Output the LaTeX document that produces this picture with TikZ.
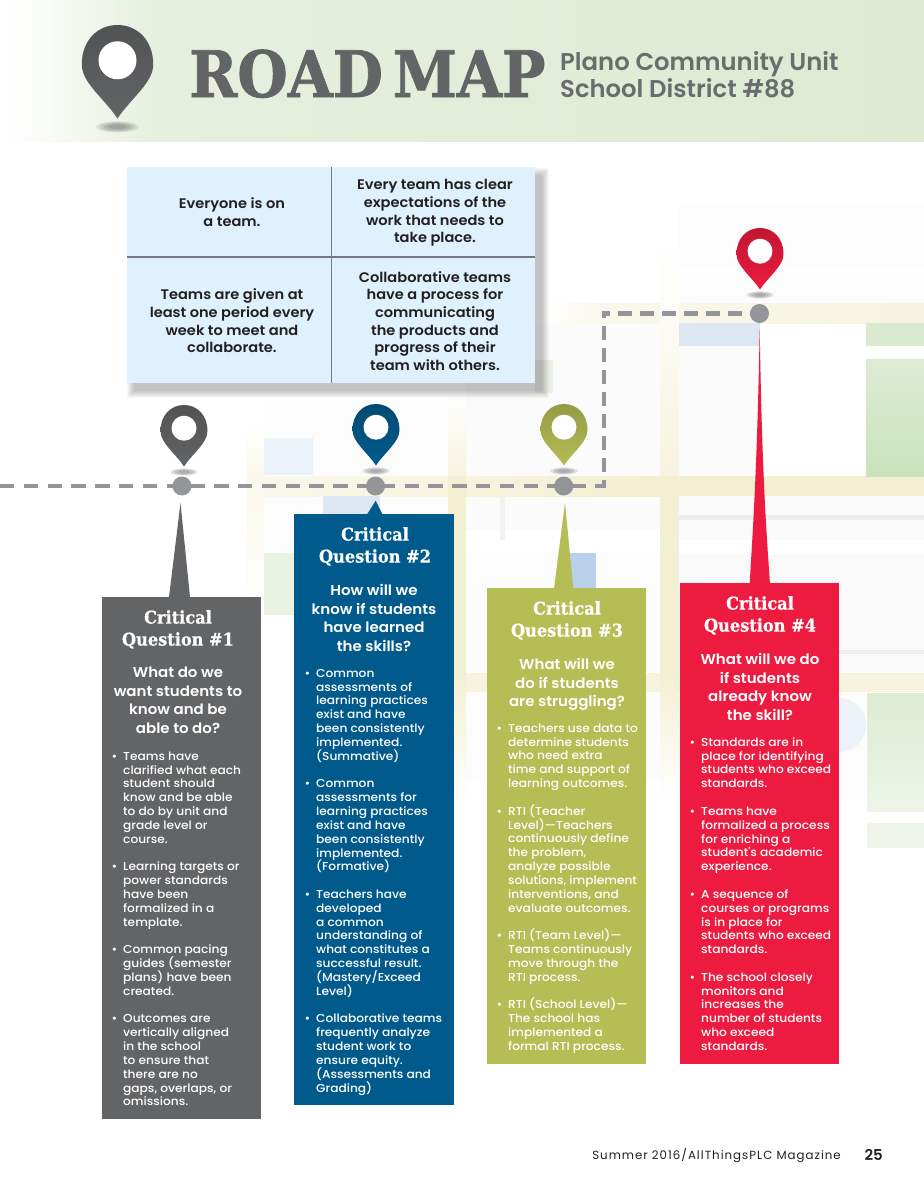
\documentclass[tikz,border=0pt]{standalone}
\usepackage{fontspec}
\usetikzlibrary{shadings,backgrounds}
\setmainfont{Poppins}
\newfontfamily\pfoot[LetterSpace=8.5]{Poppins}
\newfontfamily\pmed[FakeStretch=1.06]{Poppins Medium}
\newfontfamily\psemi[FakeStretch=1.05]{Poppins SemiBold}
\newfontfamily\psub{Poppins SemiBold}
\newfontfamily\slab[FakeStretch=0.92,FakeBold=0.6]{DejaVu Serif Bold}
\newfontfamily\slabT[FakeStretch=0.905,FakeBold=1.2]{DejaVu Serif Bold}
\definecolor{cone}{HTML}{636466}
\definecolor{ctwo}{HTML}{005B8C}
\definecolor{cthree}{HTML}{B5BD55}
\definecolor{cfour}{HTML}{EC1B3F}
\definecolor{dashgrey}{HTML}{939598}
\definecolor{tablefill}{HTML}{DFF1FC}
\definecolor{rulegrey}{HTML}{777A85}
\definecolor{inkblack}{HTML}{231F20}
\definecolor{rA}{HTML}{F6F3DF}
\definecolor{rB}{HTML}{F3EFD2}
\definecolor{rC}{HTML}{FAF8EC}
\definecolor{gA}{HTML}{D9EACE}
\definecolor{gB}{HTML}{C9E3BC}
\definecolor{gC}{HTML}{DDEBD2}
\definecolor{gD}{HTML}{EEF5E8}
\definecolor{gE}{HTML}{EAF2E3}
\definecolor{gF}{HTML}{EBF0E6}
\definecolor{bA}{HTML}{DDE6F3}
\definecolor{bB}{HTML}{EBF1F9}
\definecolor{bC}{HTML}{B9D0EA}
\definecolor{bD}{HTML}{EDF2F9}
\definecolor{bandA}{HTML}{E7F0DF}
\definecolor{bandB}{HTML}{DDE9D1}
\newcommand\bul{\makebox[0pt][r]{•\hspace{6pt}}}
\newcommand\fl{\rule{0pt}{9pt}}
\newcommand\tightlines{\lineskiplimit=-100pt\relax}
\newcommand\mapmarker[4]{% cx, top, scale, colour
  \begin{scope}[shift={(#1,#2)},scale=#3]
    \foreach \w/\h in {14/3.6,11.5/3,9/2.4,6/1.6}
      \fill[black,opacity=.09] (0,67) ellipse[x radius=\w,y radius=\h];
    \shade[top color=#4!82!black,bottom color=#4]
      (-23.5,26) .. controls (-23.5,10) and (-13,0) .. (0,0)
      .. controls (13,0) and (23.5,10) .. (23.5,26)
      .. controls (23.5,38) and (9,48) .. (0,61.5)
      .. controls (-9,48) and (-23.5,38) .. (-23.5,26) -- cycle;
    \fill[white] (0,23.2) circle[radius=12.5];
  \end{scope}}
\tikzset{
  qtitle/.style={inner sep=0pt,align=center,text=white,anchor=north,font=\slab\fontsize{17.6}{22}\selectfont\tightlines},
  qask/.style={inner sep=0pt,align=center,text=white,anchor=north,font=\psemi\fontsize{14.3}{18.6}\selectfont\tightlines},
  qlist/.style={inner sep=0pt,align=left,text=white,anchor=north west,font=\pmed\fontsize{11.5}{13.83}\selectfont\tightlines},
  cell/.style={inner sep=0pt,align=center,text=inkblack,font=\psemi\fontsize{13.9}{17.7}\selectfont\tightlines},
  route/.style={draw=dashgrey,line width=4.6pt},
  stopdot/.style={circle,fill=dashgrey,minimum size=19pt,inner sep=0pt},
}
\begin{document}
\begin{tikzpicture}[x=1pt,y=-1pt]
\useasboundingbox (0,0) rectangle (924,1200);
\begin{pgfonlayer}{background}
\fill[white] (0,0) rectangle (924,1200);
% faint street map: blocks
\fill[black!1.5] (466,322) rectangle (660,476);
\fill[black!1.5] (466,496) rectangle (660,530);
\fill[black!1.2] (466,553) rectangle (660,672);
\fill[black!1.2] (466,692) rectangle (660,780);
\fill[black!5] (500,496) rectangle (505,540);
\fill[black!1.5] (679,346) rectangle (762,476);
\fill[black!2] (679,496) rectangle (924,540);
\fill[black!7] (679,515) rectangle (924,520);
\fill[black!2.5] (679,555) rectangle (924,672);
\fill[black!7] (839,650) rectangle (924,654);
\fill[black!1] (679,205) rectangle (924,268);
\fill[black!1] (679,272) rectangle (924,303);
\fill[black!1] (264,400) rectangle (448,476);
\fill[black!1] (264,496) rectangle (448,553);
\fill[black!1] (679,692) rectangle (866,800);
% roads
\shade[left color=white,right color=rC] (535,303) rectangle (600,323);
\shade[left color=rC,right color=rA] (600,303) rectangle (924,323);
\shade[left color=rC,right color=rB] (247,476) rectangle (660,496);
\fill[rB] (660,476) rectangle (924,496);
\fill[rA] (466,673) rectangle (924,692);
\shade[top color=white,bottom color=rA] (660,240) rectangle (679,476);
\fill[rB] (660,476) rectangle (679,673);
\shade[top color=rB,bottom color=white] (660,673) rectangle (679,800);
\shade[top color=white,bottom color=rA] (448,390) rectangle (466,476);
\fill[rB] (448,476) rectangle (466,673);
\shade[top color=rB,bottom color=white] (448,673) rectangle (466,800);
\shade[top color=white,bottom color=rC] (247,420) rectangle (264,476);
\shade[top color=rC,bottom color=white] (247,476) rectangle (264,640);
% green and blue blocks
\fill[gF] (535,360) rectangle (553,393);
\fill[gA] (866,323) rectangle (924,346);
\shade[top color=gC,bottom color=gB] (866,359) rectangle (924,476);
\shade[top color=gC,bottom color=gD] (867,693) rectangle (924,811);
\fill[gD] (867,823) rectangle (924,848);
\fill[gE] (264,553) rectangle (294,615);
\fill[bD] (839,725) circle[radius=27];
\fill[bA] (679,323) rectangle (760,346);
\fill[bB] (264,438) rectangle (313,475);
\fill[bA] (323,496) rectangle (380,514);
\fill[bC] (570,553) rectangle (596,588);
\end{pgfonlayer}
% header band
\shade[left color=white,right color=bandA] (8,0) rectangle (150.5,141);
\shade[left color=bandA,right color=bandB] (150,0) rectangle (924,141);
% title
\mapmarker{117.5}{25}{1.52}{cone}
\node[inner sep=0pt,anchor=base west,text=cone] (roadmap) at (189,97) {\slabT\fontsize{64}{64}\selectfont ROAD\hspace{10pt}MAP};
\node[inner sep=0pt,anchor=north west,align=left,text=cone!95!white,font=\psub\fontsize{24.3}{27}\selectfont\tightlines] (district) at (560,51) {Plano Community Unit\\School District \#88};
% table
\foreach \e in {0,...,7}
  \fill[black,opacity=.03] (134-\e,175-\e) rectangle (542+\e,391+\e);
\fill[tablefill] (127,167) rectangle (535,383);
\draw[rulegrey,line width=1pt] (331,167) -- (331,383);
\draw[rulegrey,line width=1.3pt] (127,257) -- (535,257);
\node[cell] (c1) at (232,212) {Everyone is on\\a team.};
\node[cell] (c2) at (435,213) {Every team has clear\\expectations of the\\work that needs to\\take place.};
\node[cell] (c3) at (232,321) {Teams are given at\\least one period every\\week to meet and\\collaborate.};
\node[cell] (c4) at (435,321) {Collaborative teams\\have a process for\\communicating\\the products and\\progress of their\\team with others.};
% route
\coordinate (start) at (0,486);
\coordinate (cornerA) at (606.3,486);
\coordinate (cornerB) at (604,488.3);
\coordinate (cornerC) at (604,311);
\coordinate (cornerD) at (601.7,313.5);
\node[stopdot] (s1) at (182,486) {};
\node[stopdot] (s2) at (375.5,486) {};
\node[stopdot] (s3) at (563.7,486) {};
\node[stopdot] (s4) at (759.5,313.5) {};
\begin{pgfonlayer}{background}
\draw[route,dash pattern=on 14.3pt off 9.5pt] (start) -- (cornerA);
\draw[route,dash pattern=on 14pt off 8pt,dash phase=6pt] (cornerB) -- (cornerC);
\draw[route,dash pattern=on 14pt off 8pt,dash phase=5.7pt] (cornerD) -- (s4.center);
\end{pgfonlayer}
\mapmarker{184}{405}{1}{cone}
\mapmarker{376}{404}{1}{ctwo}
\mapmarker{564}{404}{1}{cthree}
\mapmarker{760}{228}{1}{cfour}
% spikes and boxes
\fill[cone] (180.5,503) -- (190,597) -- (169,597) -- cycle;
\fill[ctwo] (375.7,500.7) -- (382.3,514) -- (367.3,514) -- cycle;
\fill[cthree] (565,503) -- (573.3,589) -- (554,589) -- cycle;
\fill[cfour] (759.7,328) .. controls (762,480) and (767,540) .. (770,584) -- (749.7,584) .. controls (752,540) and (757,480) .. cycle;
\fill[cone] (102,596.5) rectangle (260.7,1119);
\fill[ctwo] (294.3,513.5) rectangle (454,1105);
\fill[cthree] (487,588) rectangle (646.3,1064);
\fill[cfour] (680,582.7) rectangle (839,1064);
% column 1
\node[qtitle] (t1) at (178,610) {Critical\\Question \#1};
\node[qask] (a1) at (178,667) {What do we\\want students to\\know and be\\able to do?};
\node[qlist] (l1) at (123,751) {\fl\bul Teams have\\clarified what each\\student should\\know and be able\\to do by unit and\\grade level or\\course.\\[13.83pt]
\bul Learning targets or\\power standards\\have been\\formalized in a\\template.\\[13.83pt]
\bul Common pacing\\guides (semester\\plans) have been\\created.\\[13.83pt]
\bul Outcomes are\\vertically aligned\\in the school\\to ensure that\\there are no\\gaps, overlaps, or\\omissions.};
% column 2
\node[qtitle] (t2) at (375,527) {Critical\\Question \#2};
\node[qask] (a2) at (374,584) {How will we\\know if students\\have learned\\the skills?};
\node[qlist] (l2) at (316,668) {\fl\bul Common\\assessments of\\learning practices\\exist and have\\been consistently\\implemented.\\(Summative)\\[13.83pt]
\bul Common\\assessments for\\learning practices\\exist and have\\been consistently\\implemented.\\(Formative)\\[13.83pt]
\bul Teachers have\\developed\\a common\\understanding of\\what constitutes a\\successful result.\\(Mastery/Exceed\\Level)\\[13.83pt]
\bul Collaborative teams\\frequently analyze\\student work to\\ensure equity.\\(Assessments and\\Grading)};
% column 3
\node[qtitle] (t3) at (567,601) {Critical\\Question \#3};
\node[qask] (a3) at (567,658) {What will we\\do if students\\are struggling?};
\node[qlist] (l3) at (508,723) {\fl\bul Teachers use data to\\determine students\\who need extra\\time and support of\\learning outcomes.\\[13.83pt]
\bul RTI (Teacher\\Level)—Teachers\\continuously define\\the problem,\\analyze possible\\solutions, implement\\interventions, and\\evaluate outcomes.\\[13.83pt]
\bul RTI (Team Level)—\\Teams continuously\\move through the\\RTI process.\\[13.83pt]
\bul RTI (School Level)—\\The school has\\implemented a\\formal RTI process.};
% column 4
\node[qtitle] (t4) at (760,596) {Critical\\Question \#4};
\node[qask] (a4) at (760,653) {What will we do\\if students\\already know\\the skill?};
\node[qlist] (l4) at (701,737) {\fl\bul Standards are in\\place for identifying\\students who exceed\\standards.\\[13.83pt]
\bul Teams have\\formalized a process\\for enriching a\\student's academic\\experience.\\[13.83pt]
\bul A sequence of\\courses or programs\\is in place for\\students who exceed\\standards.\\[13.83pt]
\bul The school closely\\monitors and\\increases the\\number of students\\who exceed\\standards.};
% footer
\node[inner sep=0pt,anchor=base east,text=inkblack] (foot) at (841,1159) {\pfoot\fontsize{11.8}{14}\selectfont Summer 2016/AllThingsPLC Magazine};
\node[inner sep=0pt,anchor=base east,text=inkblack] (page) at (883,1160) {\psub\fontsize{15}{18}\selectfont 25};
\end{tikzpicture}
\end{document}
